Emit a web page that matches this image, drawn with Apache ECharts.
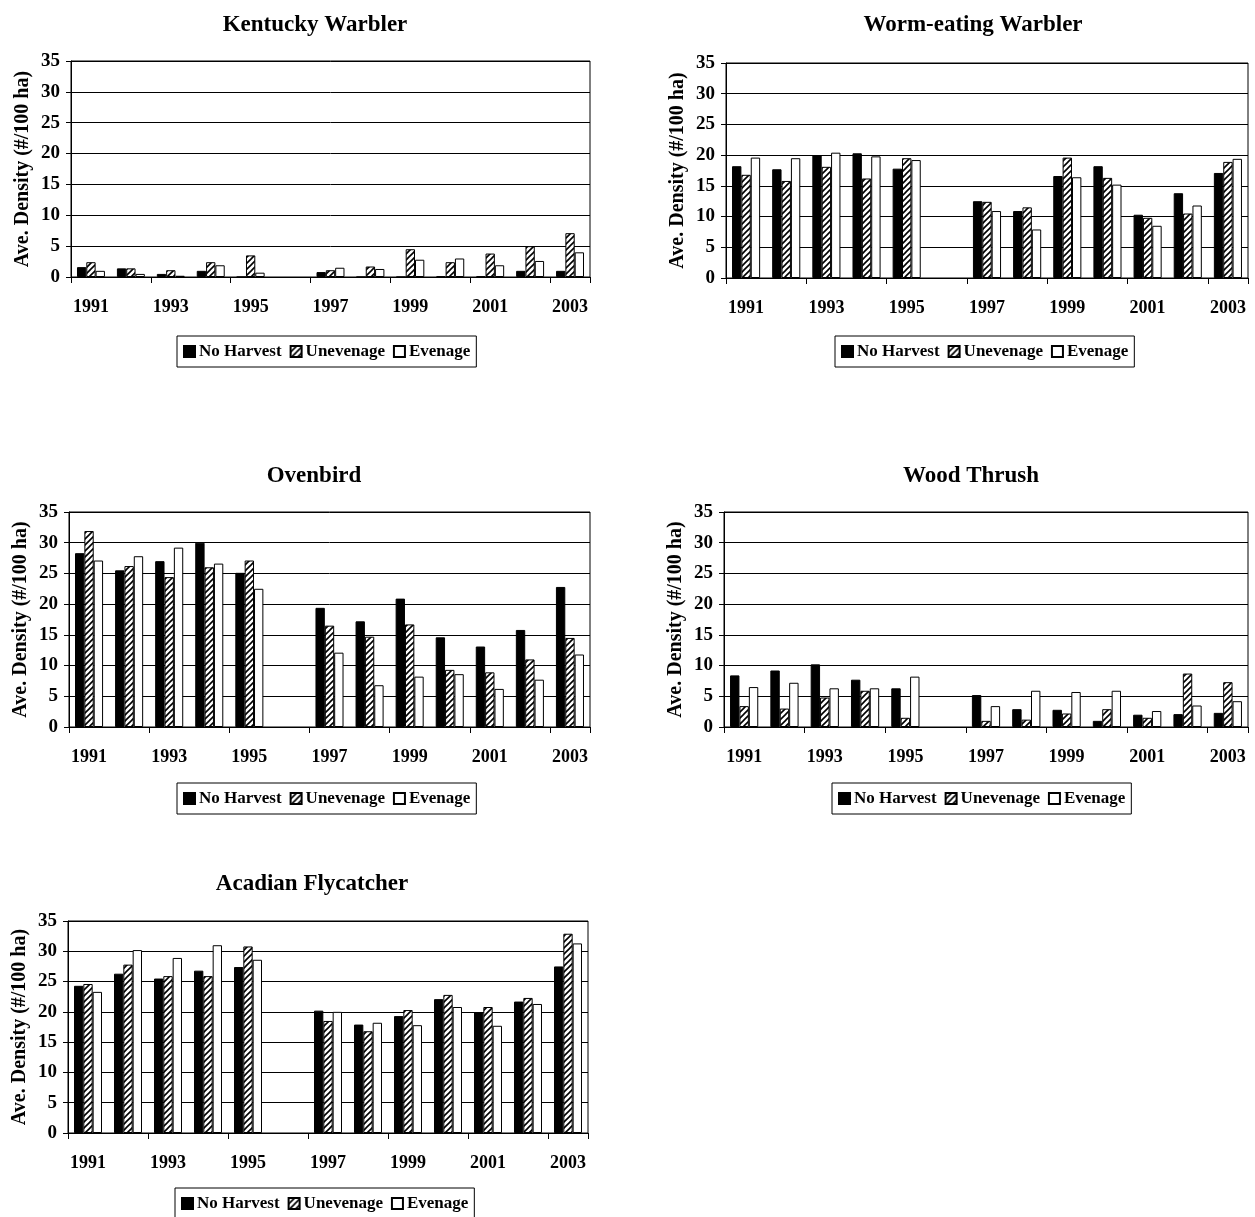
<!DOCTYPE html>
<html>
<head>
<meta charset="utf-8">
<title>Bird density by harvest treatment</title>
<script src="https://cdn.jsdelivr.net/npm/echarts@6/dist/echarts.min.js"></script>
<style>
  html, body { margin: 0; padding: 0; background: #fff; }
  #chart { width: 1255px; height: 1217px; }
</style>
</head>
<body>
<div id="chart"></div>
<script>
// Survey years (1996 was not sampled)
const years = ['1991','1992','1993','1994','1995','1996','1997','1998','1999','2000','2001','2002','2003'];
const seriesNames = ['No Harvest', 'Unevenage', 'Evenage'];

// Kentucky Warbler
const kentuckyNoHarvest = [1.6, 1.4, 0.5, 1.0, 0, null, 0.8, 0, 0, 0.1, 0.1, 1.0, 1.0];
const kentuckyUnevenage = [2.4, 1.4, 1.1, 2.4, 3.5, null, 1.1, 1.7, 4.5, 2.4, 3.8, 5.0, 7.1];
const kentuckyEvenage   = [1.0, 0.5, 0.2, 1.9, 0.7, null, 1.5, 1.3, 2.8, 3.0, 1.9, 2.6, 4.0];

// Worm-eating Warbler
const wormNoHarvest = [18.2, 17.7, 20.0, 20.3, 17.8, null, 12.5, 10.9, 16.6, 18.2, 10.3, 13.8, 17.1];
const wormUnevenage = [16.8, 15.8, 18.1, 16.2, 19.5, null, 12.4, 11.5, 19.6, 16.3, 9.8, 10.5, 18.9];
const wormEvenage   = [19.6, 19.5, 20.4, 19.8, 19.2, null, 10.9, 7.9, 16.4, 15.2, 8.5, 11.8, 19.4];

// Ovenbird
const ovenNoHarvest = [28.3, 25.5, 27.0, 30.0, 25.1, null, 19.4, 17.2, 20.9, 14.6, 13.1, 15.8, 22.8];
const ovenUnevenage = [31.9, 26.2, 24.4, 26.0, 27.1, null, 16.5, 14.7, 16.7, 9.3, 8.9, 11.0, 14.5];
const ovenEvenage   = [27.1, 27.8, 29.2, 26.6, 22.5, null, 12.1, 6.8, 8.2, 8.6, 6.2, 7.7, 11.8];

// Wood Thrush
const thrushNoHarvest = [8.4, 9.2, 10.2, 7.7, 6.3, null, 5.2, 2.9, 2.8, 1.0, 2.0, 2.1, 2.3];
const thrushUnevenage = [3.4, 3.0, 4.8, 5.9, 1.5, null, 1.0, 1.2, 2.2, 2.9, 1.5, 8.7, 7.3];
const thrushEvenage   = [6.5, 7.2, 6.3, 6.3, 8.2, null, 3.4, 5.9, 5.7, 5.9, 2.6, 3.5, 4.2];

// Acadian Flycatcher
const acadianNoHarvest = [24.3, 26.3, 25.5, 26.8, 27.4, null, 20.2, 17.9, 19.3, 22.1, 19.9, 21.7, 27.5];
const acadianUnevenage = [24.6, 27.8, 25.9, 25.9, 30.8, null, 18.5, 16.8, 20.3, 22.8, 20.8, 22.3, 32.9];
const acadianEvenage   = [23.3, 30.2, 28.9, 31.0, 28.6, null, 20.0, 18.2, 17.8, 20.8, 17.7, 21.3, 31.3];

const panels = [
  { title: 'Kentucky Warbler',   data: [kentuckyNoHarvest, kentuckyUnevenage, kentuckyEvenage],
    grid: { left: 71, top: 61, width: 519, height: 216 }, titleX: 310, titleY: 9, legend: { left: 177, top: 336 } },
  { title: 'Worm-eating Warbler', data: [wormNoHarvest, wormUnevenage, wormEvenage],
    grid: { left: 726, top: 63, width: 522, height: 215 }, titleX: 968, titleY: 9, legend: { left: 835, top: 336 } },
  { title: 'Ovenbird',            data: [ovenNoHarvest, ovenUnevenage, ovenEvenage],
    grid: { left: 69, top: 512, width: 521, height: 215 }, titleX: 309, titleY: 460, legend: { left: 177, top: 783 } },
  { title: 'Wood Thrush',         data: [thrushNoHarvest, thrushUnevenage, thrushEvenage],
    grid: { left: 724, top: 512, width: 524, height: 215 }, titleX: 966, titleY: 460, legend: { left: 832, top: 783 } },
  { title: 'Acadian Flycatcher',  data: [acadianNoHarvest, acadianUnevenage, acadianEvenage],
    grid: { left: 68, top: 921, width: 520, height: 212 }, titleX: 307, titleY: 868, legend: { left: 175, top: 1188 } }
];

// Diagonal hatch fill for the uneven-age treatment
function makeHatch() {
  const c = document.createElement('canvas');
  const s = 6;
  c.width = s; c.height = s;
  const ctx = c.getContext('2d');
  ctx.fillStyle = '#fff';
  ctx.fillRect(0, 0, s, s);
  ctx.strokeStyle = '#000';
  ctx.lineWidth = 1.6;
  ctx.beginPath();
  ctx.moveTo(-1, s + 1); ctx.lineTo(s + 1, -1);
  ctx.moveTo(-1, 1); ctx.lineTo(1, -1);
  ctx.moveTo(s - 1, s + 1); ctx.lineTo(s + 1, s - 1);
  ctx.stroke();
  return c;
}
const hatch = makeHatch();

const font = '"Liberation Serif", "Times New Roman", serif';
const fills = ['#000', { image: hatch, repeat: 'repeat' }, '#fff'];

const option = {
  backgroundColor: '#fff',
  animation: false,
  textStyle: { fontFamily: font, color: '#000' },
  title: [], grid: [], xAxis: [], yAxis: [], legend: [], series: []
};

panels.forEach((p, i) => {
  option.title.push({
    text: p.title, left: p.titleX, top: p.titleY, textAlign: 'center',
    textStyle: { fontFamily: font, fontWeight: 'bold', fontSize: 23, color: '#000' }
  });
  option.grid.push(Object.assign({ show: true, borderColor: '#000', borderWidth: 1, backgroundColor: 'transparent' }, p.grid));
  option.xAxis.push({
    type: 'category', gridIndex: i, data: years,
    axisLine: { lineStyle: { color: '#000', width: 1 } },
    axisTick: { show: true, length: 6, lineStyle: { color: '#000' } },
    axisLabel: { interval: 1, margin: 21, fontFamily: font, fontWeight: 'bold', fontSize: 18, color: '#000' }
  });
  option.yAxis.push({
    type: 'value', gridIndex: i, min: 0, max: 35, interval: 5,
    name: 'Ave. Density (#/100 ha)', nameLocation: 'middle', nameGap: 38, nameRotate: 90,
    nameTextStyle: { fontFamily: font, fontWeight: 'bold', fontSize: 20, color: '#000' },
    axisLine: { show: true, lineStyle: { color: '#000', width: 1 } },
    axisTick: { show: true, length: 5, lineStyle: { color: '#000' } },
    splitLine: { show: true, lineStyle: { color: '#000', width: 1 } },
    axisLabel: { margin: 11, fontFamily: font, fontWeight: 'bold', fontSize: 19, color: '#000' }
  });
  option.legend.push({
    left: p.legend.left, top: p.legend.top, orient: 'horizontal',
    data: seriesNames, icon: 'rect', itemWidth: 11, itemHeight: 11, itemGap: 8,
    borderColor: '#000', borderWidth: 1, padding: [7, 6, 7, 6],
    textStyle: { fontFamily: font, fontWeight: 'bold', fontSize: 17, color: '#000', padding: [0, 0, 0, -1] }
  });
  p.data.forEach((vals, k) => {
    option.series.push({
      type: 'bar', name: seriesNames[k], xAxisIndex: i, yAxisIndex: i, data: vals,
      barGap: '0%', barCategoryGap: '30%',
      itemStyle: { color: fills[k], borderColor: '#000', borderWidth: 1 }
    });
  });
});

const chart = echarts.init(document.getElementById('chart'), null, { renderer: 'canvas' });
chart.setOption(option);
</script>
</body>
</html>
